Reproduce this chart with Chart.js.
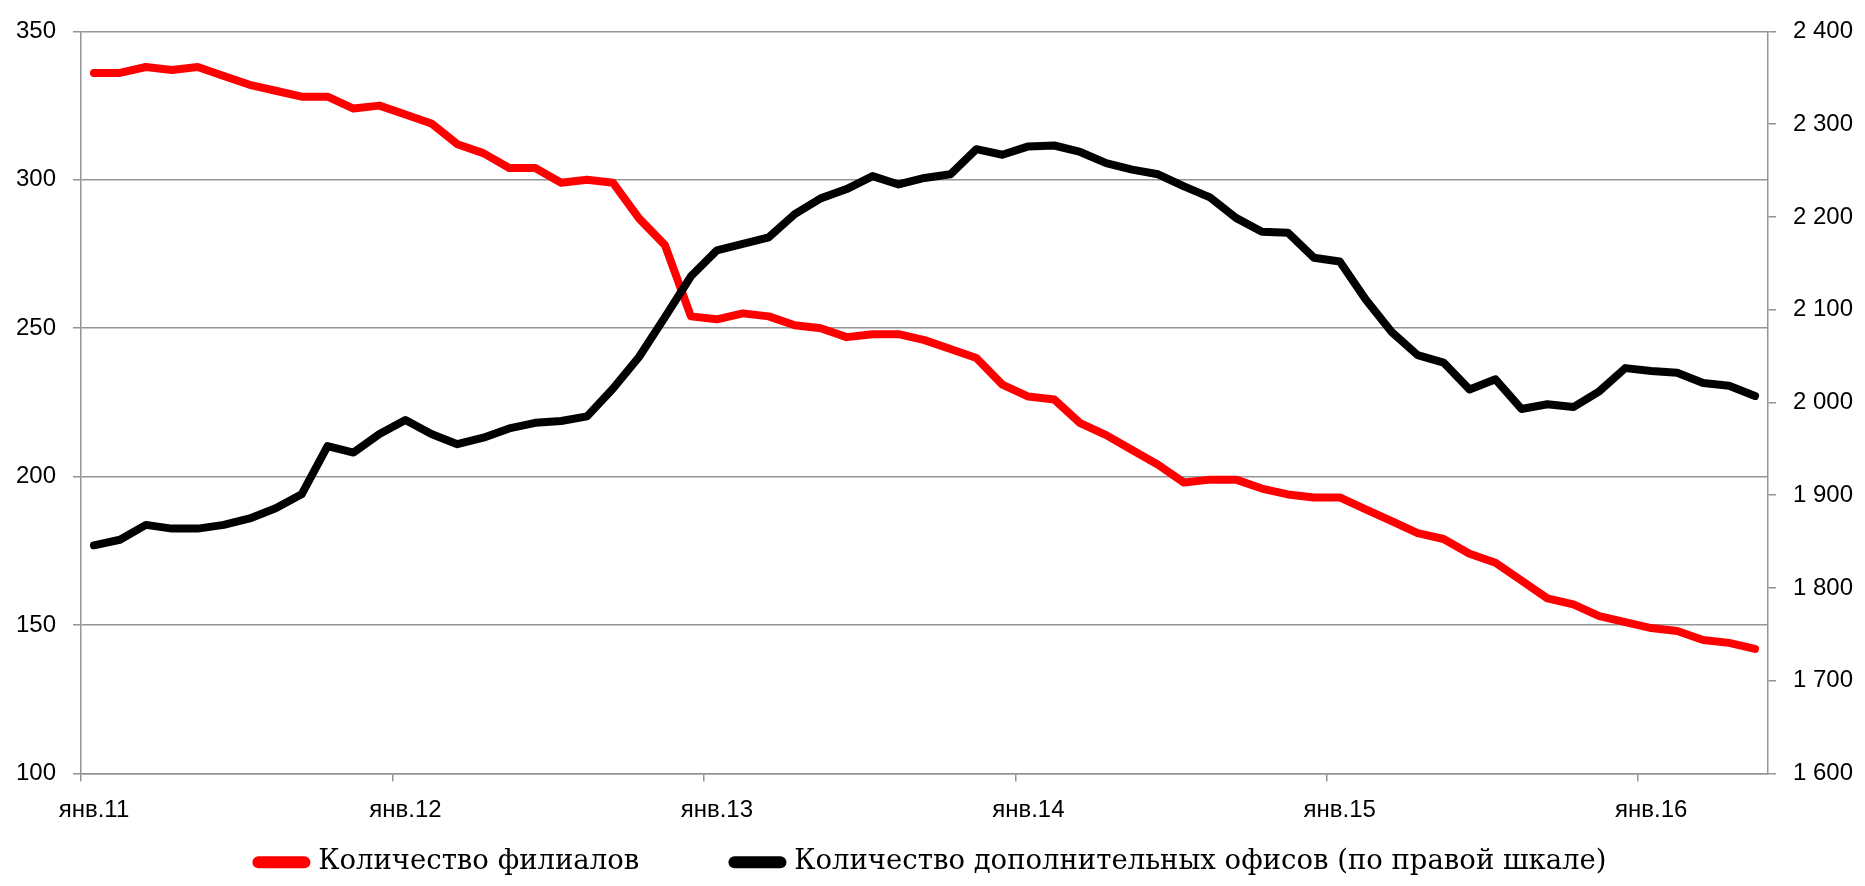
<!DOCTYPE html>
<html>
<head>
<meta charset="utf-8">
<script src="https://cdn.jsdelivr.net/npm/chart.js@4.4.1/dist/chart.umd.min.js"></script>
<style>
  html, body { margin: 0; padding: 0; background: #fff; }
  #wrap { width: 1865px; height: 886px; }
</style>
</head>
<body>
<div id="wrap"><canvas id="officesChart"></canvas></div>
<script>
// months янв.11 ... май.16
var monthNames = ['янв', 'фев', 'мар', 'апр', 'май', 'июн', 'июл', 'авг', 'сен', 'окт', 'ноя', 'дек'];
var years = ['11', '12', '13', '14', '15', '16'];
var monthsInLastYear = 5;

// Количество филиалов (left scale)
var branches = [
  336, 336, 338, 337, 338, 335, 332, 330, 328, 328, 324, 325,
  322, 319, 312, 309, 304, 304, 299, 300, 299, 287, 278, 254,
  253, 255, 254, 251, 250, 247, 248, 248, 246, 243, 240, 231,
  227, 226, 218, 214, 209, 204, 198, 199, 199, 196, 194, 193,
  193, 189, 185, 181, 179, 174, 171, 165, 159, 157, 153, 151,
  149, 148, 145, 144, 142
];

// Количество дополнительных офисов (right scale)
var extraOffices = [
  1846, 1852, 1868, 1864, 1864, 1868, 1875, 1886, 1901, 1953, 1946, 1966,
  1981, 1966, 1955, 1962, 1972, 1978, 1980, 1985, 2015, 2049, 2092, 2136,
  2164, 2171, 2178, 2203, 2220, 2230, 2244, 2235, 2242, 2246, 2273, 2267,
  2276, 2277, 2270, 2258, 2251, 2246, 2233, 2221, 2199, 2184, 2183, 2156,
  2152, 2111, 2076, 2051, 2043, 2014, 2025, 1993, 1998, 1995, 2012, 2037,
  2034, 2032, 2021, 2018, 2007
];

var leftTicks = [100, 350, 50];     // min, max, step
var rightTicks = [1600, 2400, 100];

var labels = [];
years.forEach(function(y, yi) {
  var count = (yi === years.length - 1) ? monthsInLastYear : 12;
  for (var m = 0; m < count; m++) {
    labels.push(monthNames[m] + '.' + y);
  }
});

var gridGray = '#949494';
var tickFont = { family: '"Liberation Sans", Arial, sans-serif', size: 24 };

Chart.defaults.font.family = '"Liberation Sans", Arial, sans-serif';
Chart.defaults.color = '#000';

var ctx = document.getElementById('officesChart');

var officesChart = new Chart(ctx, {
  type: 'line',
  data: {
    labels: labels,
    datasets: [{
      label: 'Количество филиалов\u2003\u2003\u2003 ',
      data: branches,
      yAxisID: 'y',
      borderColor: '#ff0000',
      backgroundColor: '#ff0000',
      borderWidth: 8,
      borderJoinStyle: 'round',
      borderCapStyle: 'round',
      pointRadius: 0,
      tension: 0,
      order: 1
    }, {
      label: 'Количество дополнительных офисов (по правой шкале)',
      data: extraOffices,
      yAxisID: 'y1',
      borderColor: '#000000',
      backgroundColor: '#000000',
      borderWidth: 8,
      borderJoinStyle: 'round',
      borderCapStyle: 'round',
      pointRadius: 0,
      tension: 0,
      order: 0
    }]
  },
  options: {
    responsive: true,
    maintainAspectRatio: false,
    animation: false,
    devicePixelRatio: 1,
    layout: {
      padding: { top: 25, left: 0, right: 0, bottom: 0 }
    },
    plugins: {
      tooltip: { enabled: false },
      legend: {
        position: 'bottom',
        labels: {
          usePointStyle: true,
          pointStyle: 'line',
          pointStyleWidth: 46,
          padding: 4,
          color: '#000',
          font: { family: '"DejaVu Serif", "Liberation Serif", serif', size: 27.5 },
          sort: function(a, b) { return a.datasetIndex - b.datasetIndex; },
          generateLabels: function(chart) {
            var items = Chart.defaults.plugins.legend.labels.generateLabels(chart);
            items.forEach(function(it) {
              it.lineWidth = 12;
              it.lineCap = 'round';
            });
            return items;
          }
        }
      }
    },
    scales: {
      x: {
        type: 'category',
        offset: true,
        grid: {
          offset: true,
          drawOnChartArea: false,
          tickLength: 8,
          lineWidth: 1.5,
          color: function(c) { return c.index % 12 === 0 ? gridGray : 'rgba(0,0,0,0)'; }
        },
        border: { color: gridGray, width: 1.5 },
        ticks: {
          font: tickFont,
          autoSkip: false,
          maxRotation: 0,
          padding: 14,
          callback: function(value, index) {
            return index % 12 === 0 ? labels[index] : '';
          }
        },
        afterFit: function(scale) { scale.height = 71; }
      },
      y: {
        position: 'left',
        min: leftTicks[0],
        max: leftTicks[1],
        ticks: { font: tickFont, stepSize: leftTicks[2], padding: 17 },
        grid: { color: gridGray, lineWidth: 1.5, tickLength: 8 },
        border: { color: gridGray, width: 1.5 },
        afterFit: function(scale) { scale.width = 81; }
      },
      y1: {
        position: 'right',
        min: rightTicks[0],
        max: rightTicks[1],
        ticks: {
          font: tickFont,
          stepSize: rightTicks[2],
          padding: 17,
          callback: function(v) {
            return String(v).replace(/\B(?=(\d{3})+(?!\d))/g, ' ');
          }
        },
        grid: { drawOnChartArea: false, color: gridGray, lineWidth: 1.5, tickLength: 8 },
        border: { color: gridGray, width: 1.5 },
        afterFit: function(scale) { scale.width = 97; }
      }
    }
  }
});
</script>
</body>
</html>
